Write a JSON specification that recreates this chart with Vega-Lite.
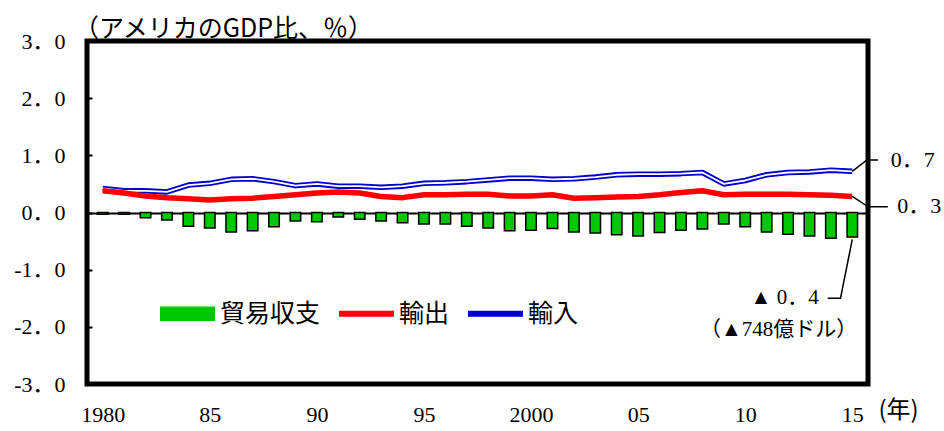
{
  "$schema": "https://vega.github.io/schema/vega-lite/v6.json",
  "width": 781,
  "height": 343,
  "autosize": {"type": "none"},
  "padding": {"left": 87, "top": 41, "right": 76, "bottom": 47},
  "background": "white",
  "config": {
    "view": {"stroke": "black", "strokeWidth": 5},
    "font": "Liberation Serif"
  },
  "title": {
    "text": "（アメリカのGDP比、％）",
    "anchor": "start",
    "frame": "group",
    "font": "Noto Sans CJK JP",
    "fontSize": 25,
    "fontWeight": "normal",
    "color": "black",
    "offset": 0,
    "dy": 12,
    "dx": -13
  },
  "datasets": {
    "main": [
      {"year": 1980, "trade": -0.03, "exports": 0.38, "imports": 0.42},
      {"year": 1981, "trade": -0.03, "exports": 0.34, "imports": 0.38},
      {"year": 1982, "trade": -0.09, "exports": 0.29, "imports": 0.38},
      {"year": 1983, "trade": -0.13, "exports": 0.26, "imports": 0.36},
      {"year": 1984, "trade": -0.24, "exports": 0.24, "imports": 0.48},
      {"year": 1985, "trade": -0.27, "exports": 0.22, "imports": 0.51},
      {"year": 1986, "trade": -0.34, "exports": 0.24, "imports": 0.58},
      {"year": 1987, "trade": -0.32, "exports": 0.25, "imports": 0.59},
      {"year": 1988, "trade": -0.25, "exports": 0.28, "imports": 0.54},
      {"year": 1989, "trade": -0.15, "exports": 0.31, "imports": 0.47},
      {"year": 1990, "trade": -0.16, "exports": 0.34, "imports": 0.50},
      {"year": 1991, "trade": -0.08, "exports": 0.36, "imports": 0.46},
      {"year": 1992, "trade": -0.12, "exports": 0.34, "imports": 0.46},
      {"year": 1993, "trade": -0.15, "exports": 0.28, "imports": 0.44},
      {"year": 1994, "trade": -0.18, "exports": 0.26, "imports": 0.46},
      {"year": 1995, "trade": -0.20, "exports": 0.31, "imports": 0.51},
      {"year": 1996, "trade": -0.20, "exports": 0.31, "imports": 0.52},
      {"year": 1997, "trade": -0.24, "exports": 0.32, "imports": 0.54},
      {"year": 1998, "trade": -0.27, "exports": 0.32, "imports": 0.57},
      {"year": 1999, "trade": -0.32, "exports": 0.29, "imports": 0.60},
      {"year": 2000, "trade": -0.31, "exports": 0.29, "imports": 0.60},
      {"year": 2001, "trade": -0.28, "exports": 0.31, "imports": 0.58},
      {"year": 2002, "trade": -0.34, "exports": 0.25, "imports": 0.59},
      {"year": 2003, "trade": -0.36, "exports": 0.26, "imports": 0.62},
      {"year": 2004, "trade": -0.39, "exports": 0.27, "imports": 0.66},
      {"year": 2005, "trade": -0.41, "exports": 0.28, "imports": 0.67},
      {"year": 2006, "trade": -0.35, "exports": 0.31, "imports": 0.67},
      {"year": 2007, "trade": -0.31, "exports": 0.35, "imports": 0.68},
      {"year": 2008, "trade": -0.29, "exports": 0.38, "imports": 0.70},
      {"year": 2009, "trade": -0.20, "exports": 0.31, "imports": 0.50},
      {"year": 2010, "trade": -0.25, "exports": 0.32, "imports": 0.56},
      {"year": 2011, "trade": -0.34, "exports": 0.32, "imports": 0.66},
      {"year": 2012, "trade": -0.38, "exports": 0.32, "imports": 0.70},
      {"year": 2013, "trade": -0.41, "exports": 0.31, "imports": 0.71},
      {"year": 2014, "trade": -0.45, "exports": 0.30, "imports": 0.74},
      {"year": 2015, "trade": -0.43, "exports": 0.28, "imports": 0.72}
    ],
    "leaders": [
      {"group": "imp", "ord": 1, "year": 2015, "value": 0.72},
      {"group": "imp", "ord": 2, "year": 2015.68, "value": 0.92},
      {"group": "imp", "ord": 3, "year": 2016.2, "value": 0.92},
      {"group": "exp", "ord": 1, "year": 2015, "value": 0.28},
      {"group": "exp", "ord": 2, "year": 2015.74, "value": 0.1},
      {"group": "exp", "ord": 3, "year": 2016.66, "value": 0.1},
      {"group": "bal", "ord": 1, "year": 2015, "value": -0.47},
      {"group": "bal", "ord": 2, "year": 2014.45, "value": -1.5},
      {"group": "bal", "ord": 3, "year": 2013.85, "value": -1.5}
    ],
    "notesLeft": [
      {"year": 2016.8, "value": 0.92, "label": "0．7"},
      {"year": 2017.1, "value": 0.12, "label": "0．3"}
    ],
    "notesRight": [
      {"year": 2013.43, "value": -1.5, "label": "▲  0．4"},
      {"year": 2015.23, "value": -2.06, "label": "（▲748億ドル）"}
    ]
  },
  "encoding": {
    "x": {
      "field": "year",
      "type": "quantitative",
      "scale": {"domain": [1979.5, 2015.5], "nice": false, "zero": false},
      "axis": {
        "title": "(年)",
        "values": [1980, 1985, 1990, 1995, 2000, 2005, 2010, 2015],
        "labelExpr": "(datum.value == 1980 || datum.value == 2000) ? toString(datum.value) : substring(toString(datum.value), 2, 4)",
        "ticks": false,
        "domain": false,
        "grid": false,
        "labelFont": "Liberation Serif",
        "labelFontSize": 22,
        "labelColor": "black",
        "labelPadding": 20,
        "labelFlush": false,
        "labelOverlap": false,
        "titleFont": "Noto Sans CJK JP",
        "titleFontSize": 24,
        "titleFontWeight": "normal",
        "titleColor": "black",
        "titleAnchor": "end",
        "titleAlign": "left",
        "titleBaseline": "top",
        "titleX": 791,
        "titleY": 14
      }
    },
    "y": {
      "field": "value",
      "type": "quantitative",
      "scale": {"domain": [-3, 3], "nice": false},
      "axis": {
        "title": null,
        "values": [-3, -2, -1, 0, 1, 2, 3],
        "labelExpr": "(datum.value < 0 ? '-' : '') + replace(format(abs(datum.value), '.1f'), '.', '．')",
        "domain": false,
        "grid": true,
        "gridColor": "black",
        "gridWidth": 2,
        "gridOpacity": {"condition": {"test": "datum.value === 0", "value": 1}, "value": 0},
        "ticks": true,
        "tickSize": -5,
        "tickWidth": 2,
        "tickColor": "black",
        "labelPadding": 27,
        "labelFont": "Liberation Serif, Noto Sans CJK JP",
        "labelFontSize": 22,
        "labelColor": "black"
      }
    }
  },
  "layer": [
    {
      "data": {"name": "main"},
      "transform": [
        {"fold": ["trade", "exports", "imports"], "as": ["series", "value"]},
        {"filter": "datum.series === 'trade'"}
      ],
      "mark": {"type": "bar", "orient": "vertical", "width": 10.5, "stroke": "black", "strokeWidth": 1.5},
      "encoding": {
        "color": {
          "field": "series",
          "type": "nominal",
          "scale": {"domain": ["trade", "exports", "imports"], "range": ["#00c800", "#ff0000", "#0000cc"]},
          "legend": {
            "orient": "none",
            "legendX": 73,
            "legendY": 245,
            "direction": "horizontal",
            "title": null,
            "symbolSize": 2809,
            "symbolStrokeWidth": 2,
            "labelFont": "Noto Sans CJK JP",
            "labelFontSize": 25,
            "labelColor": "black",
            "labelOffset": 5,
            "columnPadding": 15,
            "labelExpr": "datum.value === 'trade' ? '貿易収支' : datum.value === 'exports' ? '輸出' : '輸入'",
            "encode": {
              "symbols": {
                "update": {
                  "shape": {"signal": "datum.value === 'trade' ? 'M-1,-0.24H1V0.24H-1Z' : datum.value === 'exports' ? 'M-1,-0.08H1V0.08H-1Z' : 'M-1,-0.075H1V0.075H-1Z'"},
                  "fill": {"signal": "datum.value === 'trade' ? '#00c800' : datum.value === 'exports' ? '#ff0000' : '#ffffff'"},
                  "stroke": {"signal": "datum.value === 'trade' ? '#000000' : datum.value === 'exports' ? '#ff0000' : '#0000cc'"},
                  "opacity": {"value": 1},
                  "fillOpacity": {"value": 1},
                  "strokeOpacity": {"value": 1}
                }
              }
            }
          }
        }
      }
    },
    {
      "data": {"name": "main"},
      "transform": [
        {"fold": ["trade", "exports", "imports"], "as": ["series", "value"]},
        {"filter": "datum.series === 'imports'"}
      ],
      "mark": {"type": "line", "strokeWidth": 5.5, "strokeJoin": "round"},
      "encoding": {
        "color": {
          "field": "series",
          "type": "nominal",
          "legend": {
            "orient": "none",
            "legendX": 73,
            "legendY": 245,
            "direction": "horizontal",
            "title": null,
            "symbolSize": 2809,
            "symbolStrokeWidth": 2,
            "labelFont": "Noto Sans CJK JP",
            "labelFontSize": 25,
            "labelColor": "black",
            "labelOffset": 5,
            "columnPadding": 15,
            "labelExpr": "datum.value === 'trade' ? '貿易収支' : datum.value === 'exports' ? '輸出' : '輸入'",
            "encode": {
              "symbols": {
                "update": {
                  "shape": {"signal": "datum.value === 'trade' ? 'M-1,-0.24H1V0.24H-1Z' : datum.value === 'exports' ? 'M-1,-0.08H1V0.08H-1Z' : 'M-1,-0.075H1V0.075H-1Z'"},
                  "fill": {"signal": "datum.value === 'trade' ? '#00c800' : datum.value === 'exports' ? '#ff0000' : '#ffffff'"},
                  "stroke": {"signal": "datum.value === 'trade' ? '#000000' : datum.value === 'exports' ? '#ff0000' : '#0000cc'"},
                  "opacity": {"value": 1},
                  "fillOpacity": {"value": 1},
                  "strokeOpacity": {"value": 1}
                }
              }
            }
          }
        }
      }
    },
    {
      "data": {"name": "main"},
      "transform": [
        {"fold": ["trade", "exports", "imports"], "as": ["series", "value"]},
        {"filter": "datum.series === 'imports'"}
      ],
      "mark": {"type": "line", "strokeWidth": 1.8, "color": "white", "strokeJoin": "round"},
      "encoding": {}
    },
    {
      "data": {"name": "main"},
      "transform": [
        {"fold": ["trade", "exports", "imports"], "as": ["series", "value"]},
        {"filter": "datum.series === 'exports'"}
      ],
      "mark": {"type": "line", "strokeWidth": 5.5, "strokeJoin": "round"},
      "encoding": {
        "color": {
          "field": "series",
          "type": "nominal",
          "legend": {
            "orient": "none",
            "legendX": 73,
            "legendY": 245,
            "direction": "horizontal",
            "title": null,
            "symbolSize": 2809,
            "symbolStrokeWidth": 2,
            "labelFont": "Noto Sans CJK JP",
            "labelFontSize": 25,
            "labelColor": "black",
            "labelOffset": 5,
            "columnPadding": 15,
            "labelExpr": "datum.value === 'trade' ? '貿易収支' : datum.value === 'exports' ? '輸出' : '輸入'",
            "encode": {
              "symbols": {
                "update": {
                  "shape": {"signal": "datum.value === 'trade' ? 'M-1,-0.24H1V0.24H-1Z' : datum.value === 'exports' ? 'M-1,-0.08H1V0.08H-1Z' : 'M-1,-0.075H1V0.075H-1Z'"},
                  "fill": {"signal": "datum.value === 'trade' ? '#00c800' : datum.value === 'exports' ? '#ff0000' : '#ffffff'"},
                  "stroke": {"signal": "datum.value === 'trade' ? '#000000' : datum.value === 'exports' ? '#ff0000' : '#0000cc'"},
                  "opacity": {"value": 1},
                  "fillOpacity": {"value": 1},
                  "strokeOpacity": {"value": 1}
                }
              }
            }
          }
        }
      }
    },
    {
      "data": {"name": "leaders"},
      "mark": {"type": "line", "color": "black", "strokeWidth": 1.5},
      "encoding": {
        "detail": {"field": "group", "type": "nominal"},
        "order": {"field": "ord", "type": "quantitative"}
      }
    },
    {
      "data": {"name": "notesLeft"},
      "mark": {"type": "text", "align": "left", "baseline": "middle", "font": "Liberation Serif, Noto Sans CJK JP", "fontSize": 22, "color": "black"},
      "encoding": {"text": {"field": "label"}}
    },
    {
      "data": {"name": "notesRight"},
      "mark": {"type": "text", "align": "right", "baseline": "middle", "font": "Liberation Serif, Noto Sans CJK JP", "fontSize": 21, "color": "black"},
      "encoding": {"text": {"field": "label"}}
    }
  ]
}
